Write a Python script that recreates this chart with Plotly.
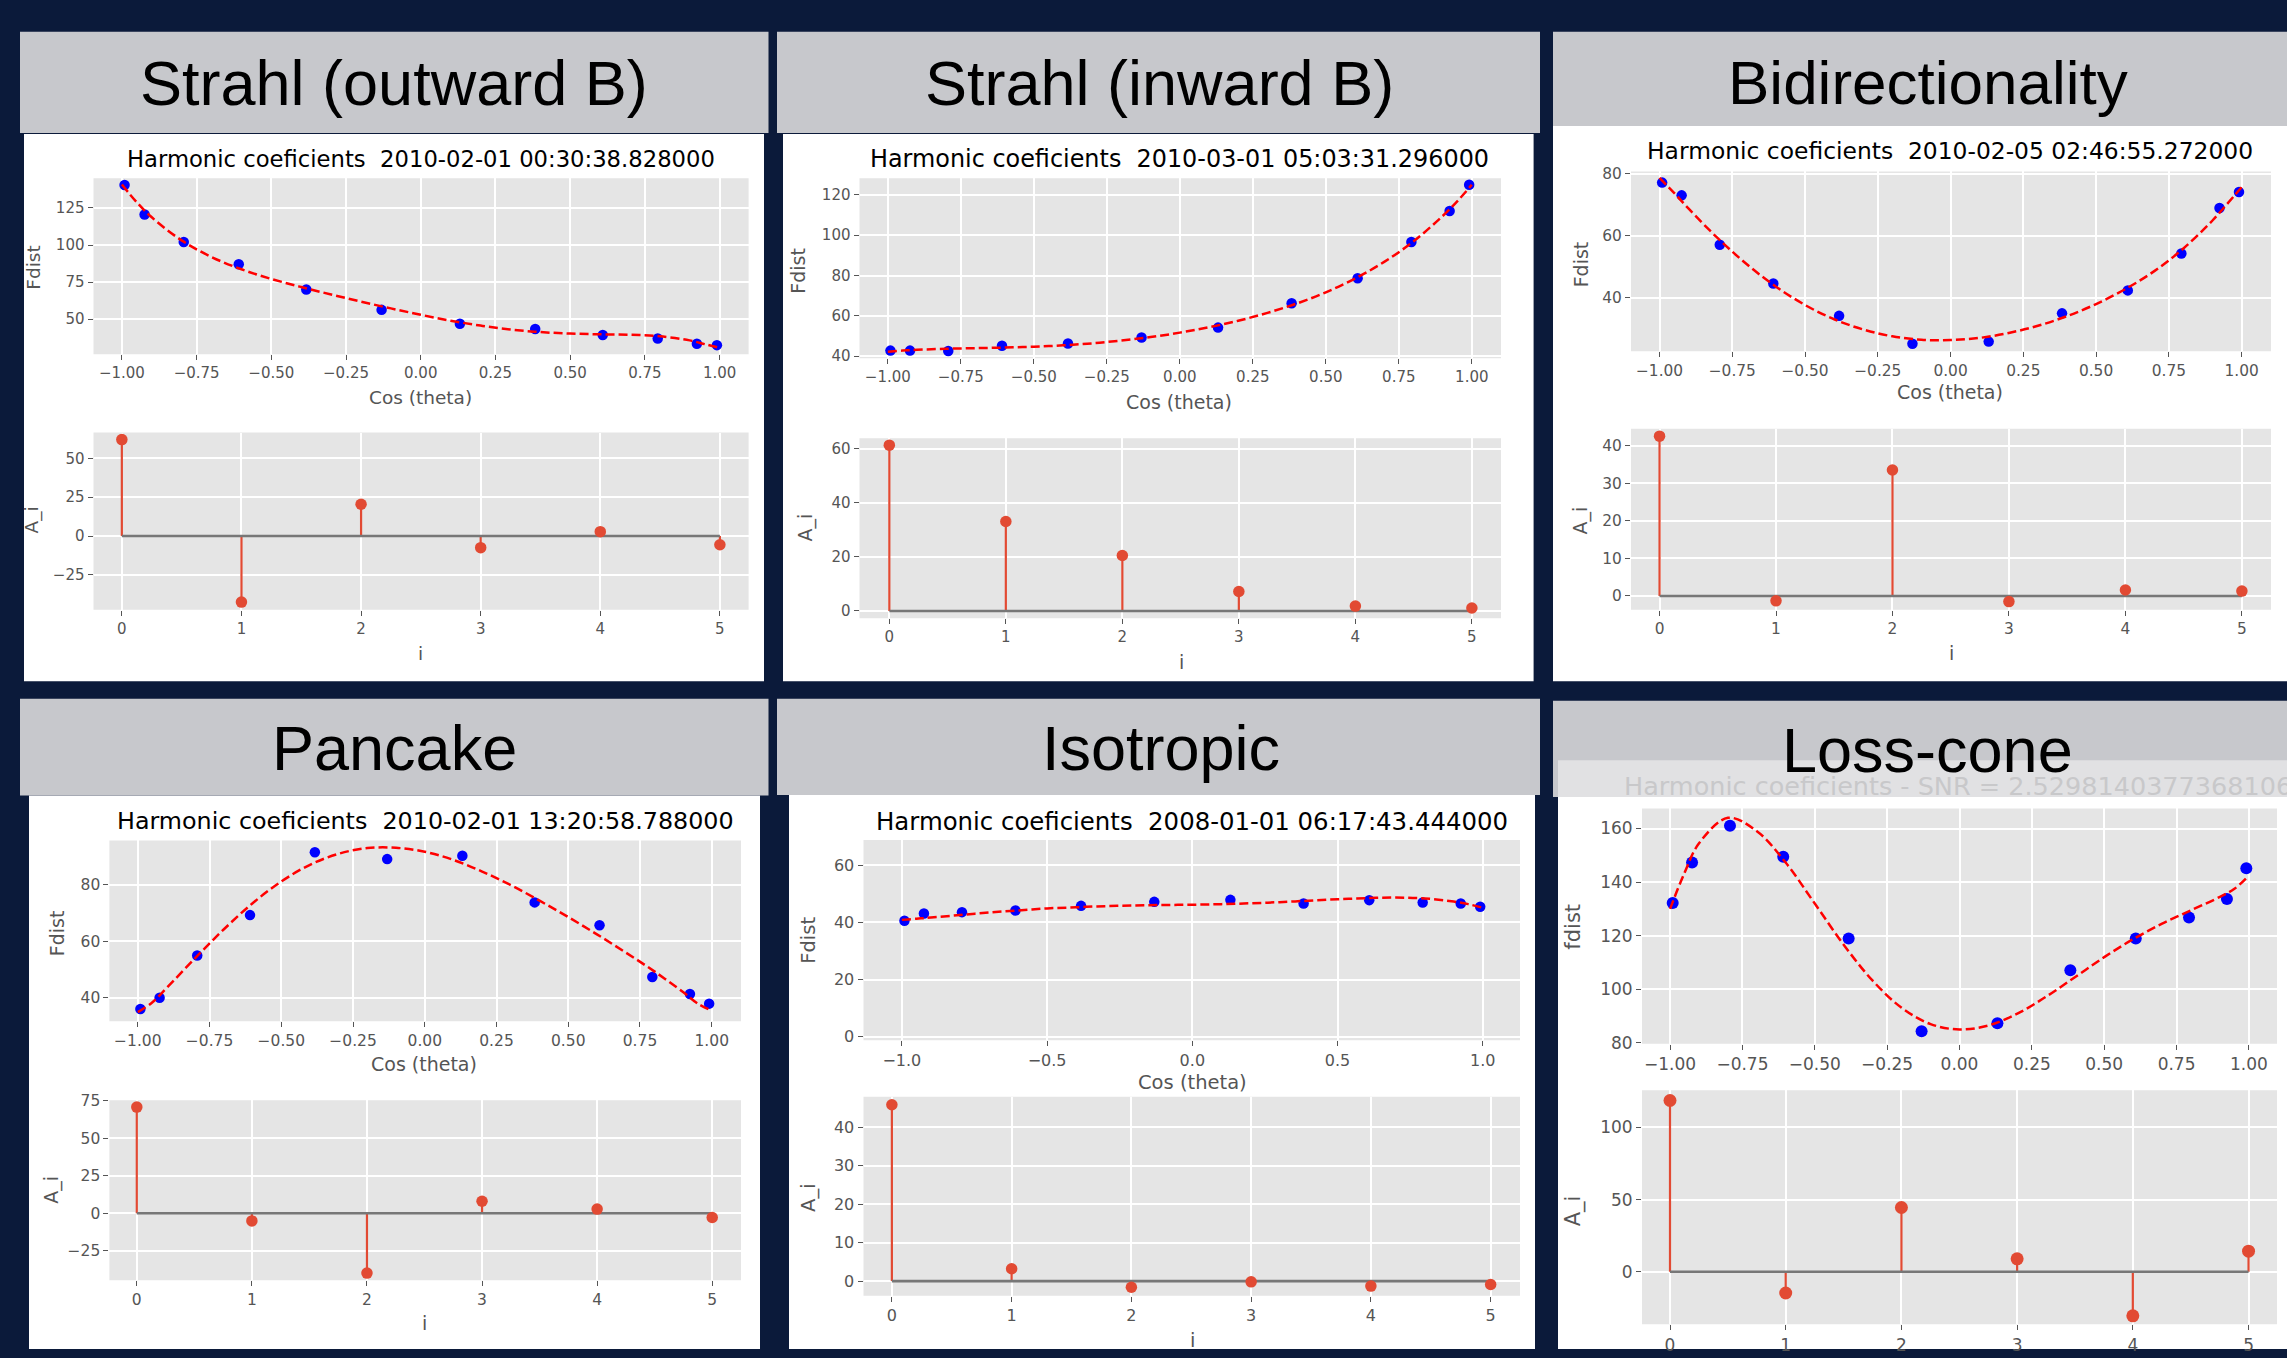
import plotly.graph_objects as go

W, H = 2287, 1358

# ---------------- data ----------------
cos_theta = [-0.991, -0.924, -0.793, -0.609, -0.383, -0.131, 0.131, 0.383, 0.609, 0.793, 0.924, 0.991]
fit_cos_theta = [-1.0, -0.95, -0.9, -0.8, -0.7, -0.6, -0.5, -0.4, -0.3, -0.2, -0.1, 0.0,
                 0.1, 0.2, 0.3, 0.4, 0.5, 0.6, 0.7, 0.8, 0.9, 0.95, 1.0]
harmonic_index = [0, 1, 2, 3, 4, 5]

header_titles = ["Strahl (outward B)", "Strahl (inward B)", "Bidirectionality",
                 "Pancake", "Isotropic", "Loss-cone"]
plot_titles = ["Harmonic coeficients  2010-02-01 00:30:38.828000",
               "Harmonic coeficients  2010-03-01 05:03:31.296000",
               "Harmonic coeficients  2010-02-05 02:46:55.272000",
               "Harmonic coeficients  2010-02-01 13:20:58.788000",
               "Harmonic coeficients  2008-01-01 06:17:43.444000",
               "Harmonic coeficients - SNR = 2.5298140377368106"]
fdist_labels = ["Fdist", "Fdist", "Fdist", "Fdist", "Fdist", "fdist"]

fdist_strahl_out = [140.5, 120.6, 102.0, 87.0, 70.0, 56.2, 46.8, 43.3, 39.2, 36.9, 33.3, 32.4]
fit_strahl_out = [140.8, 128.8, 118.7, 103.1, 91.9, 83.6, 77.1, 71.6, 66.6, 61.8, 57.2, 52.9,
                  48.9, 45.6, 42.9, 41.2, 40.2, 39.7, 39.4, 38.4, 35.6, 33.1, 30.5]
coef_strahl_out = [62.0, -42.5, 20.4, -7.5, 2.8, -5.6]

fdist_strahl_in = [42.8, 42.8, 42.6, 45.2, 46.3, 49.3, 54.2, 66.3, 78.7, 96.6, 112.0, 125.0]
fit_strahl_in = [42.2, 42.8, 43.2, 43.7, 44.0, 44.3, 44.7, 45.4, 46.4, 47.8, 49.5, 51.7,
                 54.4, 57.6, 61.5, 66.1, 71.7, 78.5, 86.8, 96.9, 109.5, 116.8, 125.0]
coef_strahl_in = [61.3, 33.1, 20.5, 7.2, 1.8, 1.1]

fdist_bidir = [77.1, 73.0, 57.1, 44.6, 34.2, 25.2, 25.9, 35.0, 42.4, 54.3, 68.9, 74.1]
fit_bidir = [78.6, 73.8, 68.7, 59.2, 50.8, 43.6, 37.7, 33.1, 29.8, 27.6, 26.5, 26.4,
             27.1, 28.7, 31.0, 34.1, 38.0, 42.8, 48.6, 55.9, 64.9, 70.2, 75.6]
coef_bidir = [42.5, -1.3, 33.5, -1.5, 1.6, 1.3]

fdist_pancake = [36.1, 40.1, 55.0, 69.3, 91.5, 89.1, 90.3, 73.8, 65.7, 47.4, 41.4, 38.0]
fit_pancake = [35.0, 38.4, 43.5, 54.1, 64.3, 73.5, 81.2, 87.1, 91.0, 93.0, 93.1, 91.7,
               88.8, 84.7, 79.9, 74.4, 68.6, 62.5, 56.1, 49.4, 42.1, 38.1, 35.5]
coef_pancake = [70.7, -5.1, -39.8, 8.0, 2.8, -2.8]

fdist_iso = [40.6, 43.1, 43.6, 44.2, 45.8, 47.2, 47.9, 46.6, 47.8, 47.0, 46.6, 45.5]
fit_iso = [40.9, 41.3, 41.7, 42.6, 43.5, 44.2, 44.9, 45.3, 45.7, 45.9, 46.1, 46.2,
           46.4, 46.7, 47.1, 47.6, 48.1, 48.5, 48.7, 48.4, 47.3, 46.4, 45.1]
coef_iso = [45.9, 3.2, -1.6, -0.2, -1.3, -0.9]

fdist_losscone = [132.2, 147.3, 161.0, 149.5, 119.0, 84.3, 87.3, 107.1, 119.0, 126.8, 133.7, 145.2]
fit_losscone = [130.0, 143.5, 154.5, 164.0, 159.0, 147.2, 132.0, 116.6, 103.2, 93.1, 87.0, 85.0,
                86.5, 90.9, 97.3, 104.6, 112.0, 118.7, 124.5, 129.5, 134.5, 137.5, 142.5]
coef_losscone = [118.7, -14.8, 44.5, 8.9, -30.6, 14.2]

fdist_all = [fdist_strahl_out, fdist_strahl_in, fdist_bidir, fdist_pancake, fdist_iso, fdist_losscone]
fit_all = [fit_strahl_out, fit_strahl_in, fit_bidir, fit_pancake, fit_iso, fit_losscone]
coef_all = [coef_strahl_out, coef_strahl_in, coef_bidir, coef_pancake, coef_iso, coef_losscone]

# ---------------- layout (pixel geometry) ----------------
BG = "#0b1a3a"
HEADER = "#c7c8cc"
PLOTBG = "#e5e5e5"
TICKC = "#555555"

headers = [(20, 768.5, 24, 126.5), (777, 1540, 24, 126.5), (1553, 2287, 24, 119.5),
           (20, 768.5, 699.5, 797.6), (777, 1540, 699.5, 797), (1553, 2287, 701.5, 799)]
panels_px = [(24, 764, 127.6, 681.7), (783, 1533.6, 127.6, 681.7), (1553, 2287, 119.5, 681.7),
             (29, 760, 797.6, 1358), (789, 1535, 797, 1358), (1558, 2287, 799, 1358)]
header_pos = [(394, 76, 63), (1159, 76, 63), (1928, 75, 62),
              (394, 749.5, 63), (1160.5, 749.5, 63), (1927, 751, 63)]

top_area = [(93.5, 748.6, 172.5, 350.7), (859.5, 1501, 172.5, 354.7), (1631, 2271, 165.5, 347.6),
            (109.4, 741, 843, 1026), (863.5, 1520, 842.6, 1045.4), (1642, 2277, 810.6, 1048.8)]
bot_area = [(93.5, 748.6, 430, 609.5), (859.5, 1501, 435.6, 618), (1631, 2271, 426, 609.5),
            (109.4, 741, 1106, 1288.4), (863.5, 1520, 1102.5, 1304), (1642, 2277, 1096, 1333)]
top_xr = [[-1.095, 1.097], [-1.097, 1.1], [-1.098, 1.101], [-1.099, 1.102], [-1.132, 1.128], [-1.097, 1.097]]
top_yr = [[26.2, 145.0], [39.0, 128.2], [22.8, 80.7], [31.8, 95.7], [-1.2, 68.8], [79.7, 167.5]]
bot_xr = [[-0.237, 5.24], [-0.256, 5.25], [-0.245, 5.25], [-0.238, 5.25], [-0.237, 5.245], [-0.242, 5.246]]
bot_yr = [[-47.5, 66.5], [-2.7, 63.9], [-3.7, 44.5], [-44.6, 75.3], [-3.8, 48.0], [-36.5, 125.8]]
top_yt = [[50, 75, 100, 125], [40, 60, 80, 100, 120], [40, 60, 80], [40, 60, 80], [0, 20, 40, 60],
          [80, 100, 120, 140, 160]]
bot_yt = [[-25, 0, 25, 50], [0, 20, 40, 60], [0, 10, 20, 30, 40], [-25, 0, 25, 50, 75],
          [0, 10, 20, 30, 40], [0, 50, 100]]
fonts = [(22.7, 15, 18.5), (23.9, 15, 19), (23.4, 15.4, 19), (23.8, 15.5, 19), (24.4, 16, 19.5), (25.5, 17, 21)]
title_pos = [(421, 152.5), (1179.6, 152.5), (1950, 144.5), (425, 823.5), (1192, 823.5), (1622, 787.5)]
ylab_top = [(34, 263), (798, 266), (1581, 259.6), (57, 937), (809, 944.6), (1573.5, 930.8)]
ylab_bot = [(32, 519), (805, 526), (1581, 519), (52, 1196.7), (809, 1205), (1573.5, 1218)]
xlab_top = [(420, 394), (1179, 399), (1950, 389), (424, 1069), (1192, 1088.5), None]
xlab_bot = [(420, 653.5), (1181, 662), (1951, 653.5), (424, 1331.5), (1192, 1349), None]


def fx(x):
    return x / W


def fy(y):
    return 1 - y / H


fig = go.Figure()
shapes = []
annotations = []

for k in range(6):
    x0, x1, y0, y1 = panels_px[k]
    shapes.append(dict(type="rect", xref="paper", yref="paper", x0=fx(x0), x1=fx(x1), y0=fy(y1), y1=fy(y0),
                       fillcolor="white", line=dict(width=0), layer="below"))
    x0, x1, y0, y1 = headers[k]
    shapes.append(dict(type="rect", xref="paper", yref="paper", x0=fx(x0), x1=fx(x1), y0=fy(y1), y1=fy(y0),
                       fillcolor=HEADER, line=dict(width=0), layer="below"))

# light band of the loss-cone figure title peeking under its header
shapes.append(dict(type="rect", xref="paper", yref="paper", x0=fx(1558), x1=fx(2287), y0=fy(799), y1=fy(761.7),
                   fillcolor="#e1e1e3", line=dict(width=0), layer="below"))

for k in range(6):
    ftitle, ftick, flab = fonts[k]
    ta, ba = 2 * k + 1, 2 * k + 2
    for n, area, xr, yr, yt, is_top in [(ta, top_area[k], top_xr[k], top_yr[k], top_yt[k], True),
                                         (ba, bot_area[k], bot_xr[k], bot_yr[k], bot_yt[k], False)]:
        sx = "" if n == 1 else str(n)
        x0, x1, y0, y1 = area
        if is_top:
            if k == 4:
                xt = [-1.0, -0.5, 0.0, 0.5, 1.0]
                xfmt = ".1f"
            else:
                xt = [-1.0, -0.75, -0.5, -0.25, 0.0, 0.25, 0.5, 0.75, 1.0]
                xfmt = ".2f"
        else:
            xt = harmonic_index
            xfmt = "d"
        common = dict(showgrid=True, gridcolor="white", gridwidth=1.5, zeroline=False, showline=False,
                      ticks="outside", ticklen=5, tickwidth=1.3, tickcolor=TICKC,
                      tickfont=dict(family="DejaVu Sans", size=ftick, color=TICKC), fixedrange=True)
        fig.update_layout(**{
            "xaxis" + sx: dict(domain=[fx(x0), fx(x1)], range=xr, anchor="y" + sx, tickvals=xt,
                               tickformat=xfmt, **common),
            "yaxis" + sx: dict(domain=[fy(y1), fy(y0)], range=yr, anchor="x" + sx, tickvals=yt,
                               tickformat="d", **common),
        })
        # gray axes background (drawn above the white panel, under the grid)
        shapes.append(dict(type="rect", xref="x" + sx + " domain", yref="y" + sx + " domain",
                           x0=0, x1=1, y0=0, y1=1, fillcolor=PLOTBG, line=dict(width=0), layer="below"))

    msize = 12 if k == 5 else 10.5
    sxt = "" if ta == 1 else str(ta)
    sxb = str(ba)
    # top: measured points then fitted curve
    fig.add_trace(go.Scatter(x=cos_theta, y=fdist_all[k], mode="markers",
                             marker=dict(color="#0000ff", size=msize), xaxis="x" + sxt, yaxis="y" + sxt,
                             showlegend=False, hoverinfo="skip"))
    fig.add_trace(go.Scatter(x=fit_cos_theta, y=fit_all[k], mode="lines", line_shape="spline",
                             line=dict(color="#ff0000", width=2.5, dash="9px,4px"),
                             xaxis="x" + sxt, yaxis="y" + sxt, showlegend=False, hoverinfo="skip"))
    # bottom: stem plot
    stem_x, stem_y = [], []
    for i, a in zip(harmonic_index, coef_all[k]):
        stem_x += [i, i, None]
        stem_y += [0, a, None]
    fig.add_trace(go.Scatter(x=stem_x, y=stem_y, mode="lines", line=dict(color="#e24a33", width=2.2),
                             xaxis="x" + sxb, yaxis="y" + sxb, showlegend=False, hoverinfo="skip"))
    fig.add_trace(go.Scatter(x=[harmonic_index[0], harmonic_index[-1]], y=[0, 0], mode="lines",
                             line=dict(color="#777777", width=2.6),
                             xaxis="x" + sxb, yaxis="y" + sxb, showlegend=False, hoverinfo="skip"))
    fig.add_trace(go.Scatter(x=harmonic_index, y=coef_all[k], mode="markers",
                             marker=dict(color="#e24a33", size=msize + 1),
                             xaxis="x" + sxb, yaxis="y" + sxb, showlegend=False, hoverinfo="skip"))

    # texts
    tx, ty = title_pos[k]
    if k == 5:
        annotations.append(dict(text=plot_titles[k], x=fx(tx), y=fy(ty), xref="paper", yref="paper",
                                xanchor="left", yanchor="middle", showarrow=False,
                                font=dict(family="DejaVu Sans", size=ftitle, color="#c8c8ca")))
    else:
        annotations.append(dict(text=plot_titles[k], x=fx(tx), y=fy(ty), xref="paper", yref="paper",
                                xanchor="center", yanchor="middle", showarrow=False,
                                font=dict(family="DejaVu Sans", size=ftitle, color="black")))
    hx, hy, hs = header_pos[k]
    annotations.append(dict(text=header_titles[k], x=fx(hx), y=fy(hy), xref="paper", yref="paper",
                            xanchor="center", yanchor="middle", showarrow=False,
                            font=dict(family="Liberation Sans", size=hs, color="black")))
    for pos, txt, ang in [(ylab_top[k], fdist_labels[k], -90), (ylab_bot[k], "A_i", -90),
                          (xlab_top[k], "Cos (theta)", 0), (xlab_bot[k], "i", 0)]:
        if pos is None:
            continue
        annotations.append(dict(text=txt, x=fx(pos[0]), y=fy(pos[1]), xref="paper", yref="paper",
                                xanchor="center", yanchor="middle", showarrow=False, textangle=ang,
                                font=dict(family="DejaVu Sans", size=flab, color=TICKC)))

fig.update_layout(width=W, height=H, margin=dict(l=0, r=0, t=0, b=0), paper_bgcolor=BG,
                  plot_bgcolor=PLOTBG, shapes=shapes, annotations=annotations, showlegend=False)

fig.write_html("out.html", config={"displayModeBar": False},
               post_script="document.body.style.margin='0';document.body.style.overflow='hidden';"
                           "document.body.style.background='" + BG + "';")
